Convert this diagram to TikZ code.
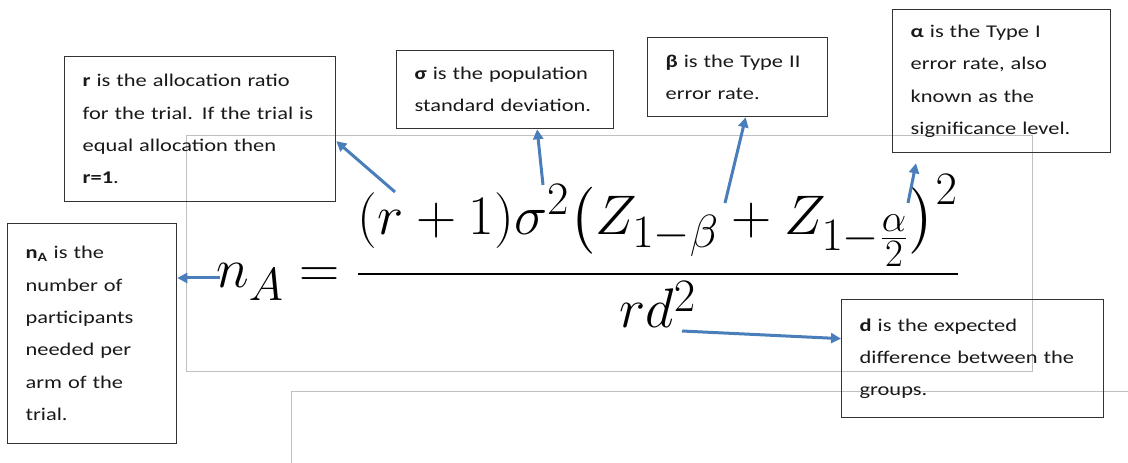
\documentclass[tikz,border=0pt]{standalone}
\usepackage{amsmath}
\usepackage{graphicx}
\usepackage{fontspec}
\setmainfont{Carlito}[FakeStretch=1.25]
\usepackage{tikz}
\usetikzlibrary{positioning,arrows.meta,calc}
\definecolor{callblue}{HTML}{4A7EBB}
\definecolor{framegray}{HTML}{C0C0C0}

\begin{document}
\begin{tikzpicture}[
    x=1bp, y=-1bp,
    font=\fontsize{18}{32.5}\selectfont,
    note/.style={draw=black!80, line width=1.3bp, text=black!90, align=left,
                 anchor=north west, inner xsep=18bp, inner ysep=0pt},
    callout/.style={-{Triangle[length=10bp,width=10bp]}, draw=callblue, line width=3bp},
    pageline/.style={draw=framegray, line width=0.8bp}
]
\useasboundingbox (0,0) rectangle (1128,463);

% ---- page lines and equation frame ----
\draw[pageline] (186,135) rectangle (1032,371);
\draw[pageline] (291,463) -- (291,391) -- (1128,391);

% ---- sample size equation ----
\node[anchor=base west, inner sep=0pt, font=\fontsize{24.88}{30}\selectfont] (eqn) at (216,288)
  {\scalebox{2.25}{$n_A = \dfrac{(r+1)\sigma^2\bigl(Z_{1-\beta}+Z_{1-\frac{\alpha}{2}}\bigr)^2}{rd^2}$}};

% ---- explanation boxes ----
\node[note, text width=235bp, minimum height=145bp] (rbox) at (64,56)
  {\textbf{r} is the allocation ratio\\ for the trial. If the trial is\\ equal allocation then\\ \textbf{r=1}.};
\node[note, text width=133bp, minimum height=220bp] (nabox) at (7,223)
  {\textbf{n\textsubscript{A}} is the\\ number of\\ participants\\ needed per\\ arm of the\\ trial.};
\node[note, text width=181bp, minimum height=78bp] (sigbox) at (396,50)
  {\textbf{σ} is the population\\ standard deviation.};
\node[note, text width=144bp, minimum height=79bp] (betabox) at (647,37)
  {\textbf{β} is the Type II\\ error rate.};
\node[note, text width=182bp, minimum height=143bp] (alphabox) at (892,9)
  {\textbf{α} is the Type I\\ error rate, also\\ known as the\\ significance level.};
\node[note, text width=226bp, minimum height=118bp] (dbox) at (841,299)
  {\textbf{d} is the expected\\ difference between the\\ groups.};

% ---- arrows from the symbols ----
\coordinate (natail) at (220,278);
\coordinate (rtail) at (395,192);
\coordinate (sigtail) at (543,185);
\coordinate (betatail) at (725,203);
\coordinate (alphatail) at (908,203);
\coordinate (dtail) at (682,331);

\draw[callout] (natail) -- (natail -| nabox.east);
\draw[callout] (rtail) -- ($(rbox.east)+(0,12)$);
\draw[callout] (sigtail) -- ($(sigbox.south)+(32,0)$);
\draw[callout] (betatail) -- ($(betabox.south)+(8,0)$);
\draw[callout] (alphatail) -- ($(alphabox.south west)+(24,10)$);
\draw[callout] (dtail) -- ($(dbox.west)+(0,-20)$);

\end{tikzpicture}
\end{document}
